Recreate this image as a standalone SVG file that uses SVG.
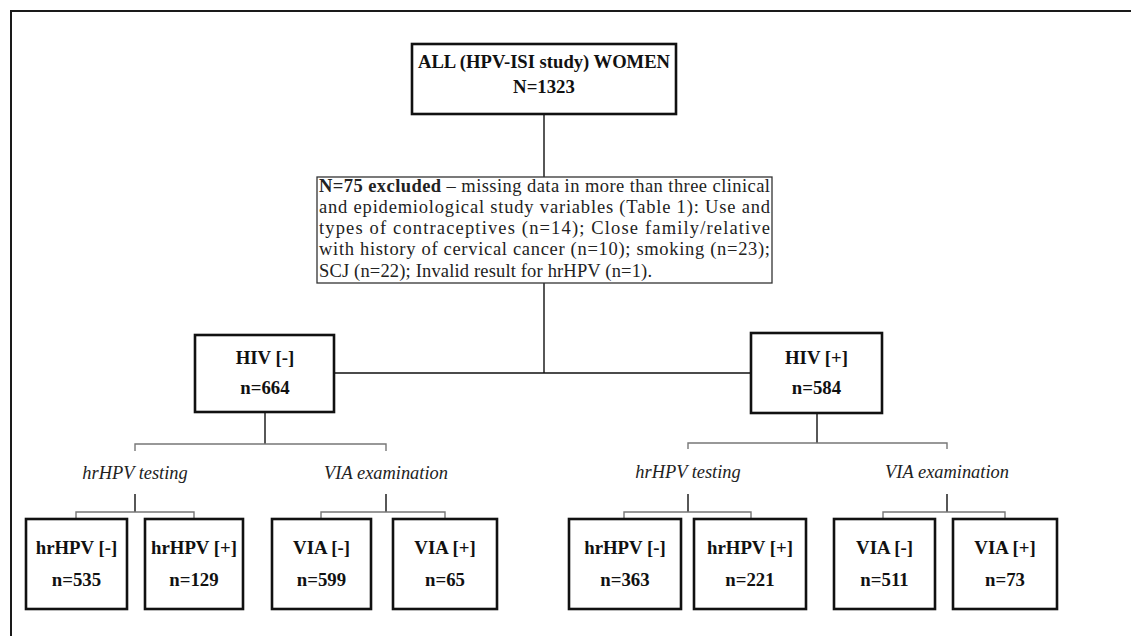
<svg xmlns="http://www.w3.org/2000/svg" width="1131" height="636" viewBox="0 0 1131 636">
<style>
.box{fill:#fff;stroke:#111;stroke-width:2.6}
.thin{fill:#fff;stroke:#333;stroke-width:1.3}
.t{font-family:"Liberation Serif","Times New Roman",serif;font-size:18.8px;font-weight:bold;fill:#111;text-anchor:middle}
.ex{font-family:"Liberation Serif","Times New Roman",serif;font-size:18.5px;fill:#222}
.it{font-family:"Liberation Serif","Times New Roman",serif;font-size:18.4px;font-style:italic;fill:#222;text-anchor:middle}
.c{fill:none;stroke:#111;stroke-width:1.4}
.g{fill:none;stroke:#777;stroke-width:1.4}
</style>
<rect width="1131" height="636" fill="#fff"/>
<path d="M11,636 V11 H1131" fill="none" stroke="#1a1a1a" stroke-width="2"/>
<g id="connectors">
<path class="c" d="M544,114 V177 M544,283 V373 M334,373 H751"/>
<path class="c" d="M265,412 V444 M817,413 V443"/>
<path class="g" d="M135,451 V444 H386 V451 M688,449 V443 H947 V449"/>
<path class="c" d="M135,494 V512 M386,494 V512 M688,494 V512 M947,494 V512"/>
<path class="g" d="M76,519 V512 H194 V519 M321,519 V512 H445 V519 M624,519 V512 H751 V519 M883,519 V512 H1005 V519"/>
</g>
<g id="all">
<rect class="box" x="412" y="44" width="264" height="70"/>
<text class="t" x="544" y="68" textLength="252" lengthAdjust="spacingAndGlyphs">ALL (HPV-ISI study) WOMEN</text>
<text class="t" x="544" y="93">N=1323</text>
</g>
<g id="excluded">
<rect class="thin" x="317" y="177" width="455" height="106"/>
<text class="ex" x="319" y="192" textLength="451" lengthAdjust="spacing"><tspan font-weight="bold">N=75 excluded</tspan> – missing data in more than three clinical</text>
<text class="ex" x="319" y="213" textLength="451" lengthAdjust="spacing">and epidemiological study variables (Table 1): Use and</text>
<text class="ex" x="319" y="234" textLength="451" lengthAdjust="spacing">types of contraceptives  (n=14); Close family/relative</text>
<text class="ex" x="319" y="255" textLength="451" lengthAdjust="spacing">with history of cervical cancer (n=10); smoking (n=23);</text>
<text class="ex" x="319" y="277" textLength="333" lengthAdjust="spacing">SCJ (n=22); Invalid result for hrHPV (n=1).</text>
</g>
<g id="hiv-neg">
<rect class="box" x="195" y="335" width="139" height="77"/>
<text class="t" x="265" y="364">HIV [-]</text>
<text class="t" x="265" y="394">n=664</text>
</g>
<g id="hiv-pos">
<rect class="box" x="751" y="333" width="131" height="80"/>
<text class="t" x="816.5" y="364">HIV [+]</text>
<text class="t" x="816.5" y="394">n=584</text>
</g>
<g id="labels">
<text class="it" x="135" y="479">hrHPV testing</text>
<text class="it" x="386" y="479">VIA examination</text>
<text class="it" x="688" y="478">hrHPV testing</text>
<text class="it" x="947" y="478">VIA examination</text>
</g>
<g id="l-hrhpv-neg">
<rect class="box" x="26" y="519" width="101" height="90"/>
<text class="t" x="76.5" y="554">hrHPV [-]</text>
<text class="t" x="76.5" y="586">n=535</text>
</g>
<g id="l-hrhpv-pos">
<rect class="box" x="145" y="519" width="98" height="90"/>
<text class="t" x="194" y="554">hrHPV [+]</text>
<text class="t" x="194" y="586">n=129</text>
</g>
<g id="l-via-neg">
<rect class="box" x="272" y="519" width="99" height="90"/>
<text class="t" x="321.5" y="554">VIA [-]</text>
<text class="t" x="321.5" y="586">n=599</text>
</g>
<g id="l-via-pos">
<rect class="box" x="393" y="519" width="104" height="90"/>
<text class="t" x="445" y="554">VIA [+]</text>
<text class="t" x="445" y="586">n=65</text>
</g>
<g id="r-hrhpv-neg">
<rect class="box" x="569" y="519" width="112" height="90"/>
<text class="t" x="625" y="554">hrHPV [-]</text>
<text class="t" x="625" y="586">n=363</text>
</g>
<g id="r-hrhpv-pos">
<rect class="box" x="694" y="519" width="112" height="90"/>
<text class="t" x="750" y="554">hrHPV [+]</text>
<text class="t" x="750" y="586">n=221</text>
</g>
<g id="r-via-neg">
<rect class="box" x="834" y="519" width="101" height="90"/>
<text class="t" x="884.5" y="554">VIA [-]</text>
<text class="t" x="884.5" y="586">n=511</text>
</g>
<g id="r-via-pos">
<rect class="box" x="953" y="519" width="104" height="90"/>
<text class="t" x="1005" y="554">VIA [+]</text>
<text class="t" x="1005" y="586">n=73</text>
</g>
</svg>
